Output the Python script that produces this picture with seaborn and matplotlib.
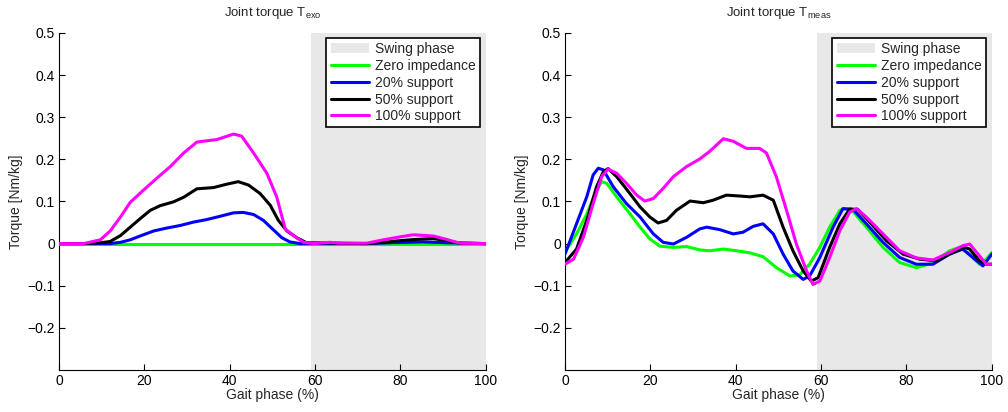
import matplotlib
matplotlib.use("Agg")
import matplotlib.pyplot as plt
import seaborn as sns
import numpy as np
from matplotlib.patches import Patch
from matplotlib.lines import Line2D

# ---------------- data ----------------
swing_start = 59.0
x_ticks = [0, 20, 40, 60, 80, 100]
y_ticks = [-0.2, -0.1, 0, 0.1, 0.2, 0.3, 0.4, 0.5]
y_tick_labels = ["\u22120.2", "\u22120.1", "0", "0.1", "0.2", "0.3", "0.4", "0.5"]
series_names = ["Zero impedance", "20% support", "50% support", "100% support"]
series_colors = ["#00ff00", "#0000ff", "#000000", "#ff00ff"]

# Left panel: T_exo
exo_zero_x = [0, 100]
exo_zero_y = [0, 0]

exo_20_x = [0, 12, 14.4, 16.7, 19, 22.2, 25.3, 28.4, 31.5, 34.6, 37.8, 40.9, 43.2, 45.6,
            47.9, 50.2, 52.2, 54.1, 56.5, 72, 78, 85, 91, 100]
exo_20_y = [0, 0, 0.003, 0.009, 0.018, 0.030, 0.037, 0.043, 0.051, 0.057, 0.065, 0.073,
            0.074, 0.069, 0.055, 0.033, 0.014, 0.004, 0, 0, 0.002, 0.004, 0.002, 0]

exo_50_x = [0, 5.8, 9.7, 12, 14.4, 16.7, 19, 21.4, 23.7, 26.8, 29.2, 32.3, 36.2, 39.3, 42,
            44.4, 47.1, 49.5, 51.4, 53.4, 55.7, 58, 72, 76, 79.9, 83.8, 87.7, 90.8, 93.9, 100]
exo_50_y = [0, 0, 0.002, 0.005, 0.019, 0.039, 0.059, 0.079, 0.090, 0.099, 0.110, 0.130,
            0.133, 0.141, 0.147, 0.139, 0.119, 0.091, 0.055, 0.030, 0.014, 0.002, 0, 0.003,
            0.007, 0.010, 0.012, 0.007, 0.001, 0]

exo_100_x = [0, 5.8, 9.7, 12, 14.4, 16.7, 19.8, 22.9, 26.1, 29.2, 32.3, 37, 40.9, 42.8, 45.6,
             48.7, 51, 53, 54.9, 57.3, 59.6, 63.5, 65.8, 72.1, 76, 79.9, 83, 87.7, 90.8, 93.9, 100]
exo_100_y = [0, 0, 0.009, 0.030, 0.063, 0.098, 0.127, 0.155, 0.183, 0.215, 0.241, 0.247,
             0.260, 0.255, 0.215, 0.167, 0.111, 0.035, 0.019, 0.003, 0, 0.003, 0.001, 0.001,
             0.009, 0.016, 0.021, 0.018, 0.010, 0.001, 0]

# Right panel: T_meas
meas_zero_x = [0, 2.7, 5.1, 7.4, 8.6, 9.8, 12.1, 15.2, 17.6, 19.9, 22.2, 25.4, 28.5, 31.6,
               33.9, 37.1, 40.2, 43.3, 46.4, 49.5, 52.7, 55, 57.3, 59.7, 62, 64.4, 65.5, 67.1,
               70.6, 74.5, 78.4, 82.3, 86.2, 90.1, 92.4, 94.8, 97.1, 98.7, 100]
meas_zero_y = [-0.020, 0.023, 0.070, 0.127, 0.147, 0.143, 0.111, 0.071, 0.039, 0.011, -0.006,
               -0.009, -0.007, -0.015, -0.017, -0.013, -0.017, -0.022, -0.031, -0.057, -0.077,
               -0.074, -0.049, -0.009, 0.039, 0.079, 0.083, 0.081, 0.039, -0.009, -0.045,
               -0.057, -0.046, -0.017, -0.009, -0.025, -0.049, -0.037, -0.021]

meas_20_x = [0, 2.7, 5.1, 6.6, 7.8, 9, 11.3, 14.4, 17.6, 20.7, 23, 25.4, 28.5, 31.6, 33.2,
             36.3, 39.4, 41.7, 44.1, 46.4, 48.8, 51.1, 53.4, 55.8, 57.3, 59.7, 62.8, 65.1,
             67.5, 70.6, 74.5, 78.4, 82.3, 86.2, 90.1, 93.2, 95.5, 97.9, 100]
meas_20_y = [-0.025, 0.047, 0.111, 0.163, 0.179, 0.175, 0.135, 0.095, 0.063, 0.023, 0.003,
             -0.001, 0.015, 0.035, 0.039, 0.033, 0.023, 0.027, 0.041, 0.047, 0.023, -0.025,
             -0.065, -0.085, -0.077, -0.033, 0.039, 0.083, 0.081, 0.047, 0.003, -0.033,
             -0.049, -0.049, -0.025, -0.013, -0.033, -0.053, -0.025]

meas_50_x = [0, 2.7, 5.1, 7.4, 9, 10.1, 12.1, 15.2, 17.6, 19.9, 21.8, 23.8, 26.1, 29.3, 32.4,
             34.7, 37.8, 40.9, 43.3, 46.4, 48.8, 51.1, 53.4, 55.8, 57.7, 59.3, 62, 64.4, 66.7,
             68.6, 71.4, 75.3, 79.2, 83.1, 87, 90.1, 93.6, 94.8, 97.1, 98.7, 100]
meas_50_y = [-0.045, -0.013, 0.055, 0.135, 0.171, 0.178, 0.159, 0.119, 0.087, 0.063, 0.049,
             0.055, 0.079, 0.101, 0.097, 0.103, 0.115, 0.113, 0.111, 0.115, 0.103, 0.039,
             -0.017, -0.065, -0.089, -0.081, -0.009, 0.047, 0.082, 0.081, 0.051, 0.007,
             -0.025, -0.037, -0.041, -0.025, -0.009, -0.013, -0.041, -0.049, -0.049]

meas_100_x = [0, 2, 4.3, 6.6, 8.6, 10.1, 12.1, 14.4, 16.8, 18.7, 20.7, 23, 25.4, 28.5, 31.6,
              33.9, 37.1, 39.4, 42.5, 45.6, 47.2, 49.5, 51.9, 54.2, 56.6, 58.1, 59.7, 62, 64.4,
              66.7, 68.3, 70.6, 74.5, 78.4, 82.3, 86.2, 90.1, 93.2, 94.8, 97.1, 98.7, 100]
meas_100_y = [-0.049, -0.037, 0.015, 0.095, 0.159, 0.177, 0.167, 0.143, 0.115, 0.101, 0.107,
              0.131, 0.159, 0.183, 0.201, 0.219, 0.249, 0.243, 0.226, 0.226, 0.215, 0.159,
              0.079, -0.001, -0.065, -0.097, -0.089, -0.033, 0.031, 0.075, 0.083, 0.063,
              0.023, -0.017, -0.034, -0.039, -0.021, -0.005, -0.001, -0.029, -0.049, -0.049]

panels = [
    ("Joint torque T$_\\mathregular{exo}$",
     [(exo_zero_x, exo_zero_y), (exo_20_x, exo_20_y), (exo_50_x, exo_50_y), (exo_100_x, exo_100_y)]),
    ("Joint torque T$_\\mathregular{meas}$",
     [(meas_zero_x, meas_zero_y), (meas_20_x, meas_20_y), (meas_50_x, meas_50_y), (meas_100_x, meas_100_y)]),
]

# ---------------- plot ----------------
sns.set_style("ticks")
plt.rcParams["font.family"] = ["Liberation Sans", "DejaVu Sans"]
plt.rcParams["mathtext.fontset"] = "custom"
plt.rcParams["mathtext.rm"] = "Liberation Sans"

fig = plt.figure(figsize=(10.08, 4.12), dpi=100)
positions = [[0.0585, 0.102, 0.4235, 0.818], [0.5605, 0.102, 0.4235, 0.818]]

for pos, (title, data) in zip(positions, panels):
    ax = fig.add_axes(pos)
    ax.axvspan(swing_start, 100, color="#e8e8e8", lw=0, zorder=0)
    for (xs, ys), name, col in zip(data, series_names, series_colors):
        sns.lineplot(x=xs, y=ys, ax=ax, color=col, lw=2.2, sort=False, estimator=None,
                     zorder=3, solid_joinstyle="round", solid_capstyle="round")
    ax.set_xlim(0, 100)
    ax.set_ylim(-0.3, 0.5)
    ax.set_xticks(x_ticks)
    ax.set_yticks(y_ticks)
    ax.set_yticklabels(y_tick_labels)
    ax.tick_params(direction="in", length=4, width=0.8, labelsize=10, colors="black", pad=3)
    for s in ["top", "right"]:
        ax.spines[s].set_visible(False)
    for s in ["left", "bottom"]:
        ax.spines[s].set_linewidth(0.8)
        ax.spines[s].set_color("black")
    ax.set_title(title, fontsize=9.5, pad=12)
    ax.set_xlabel("Gait phase (%)", fontsize=10, labelpad=0)
    ax.set_ylabel("Torque [Nm/kg]", fontsize=10, labelpad=3)
    handles = [Patch(facecolor="#e8e8e8", edgecolor="none")] + \
              [Line2D([0], [0], color=c, lw=2.2) for c in series_colors]
    labels = ["Swing phase"] + series_names
    leg = ax.legend(handles, labels, loc="upper right", bbox_to_anchor=(0.986, 0.985),
                    fontsize=10, frameon=True, fancybox=False, framealpha=1,
                    edgecolor="black", borderpad=0.3, labelspacing=0.2,
                    handlelength=2.8, handletextpad=0.4, borderaxespad=0.0)
    leg.get_frame().set_linewidth(1.2)

fig.savefig("out.png", dpi=100)
